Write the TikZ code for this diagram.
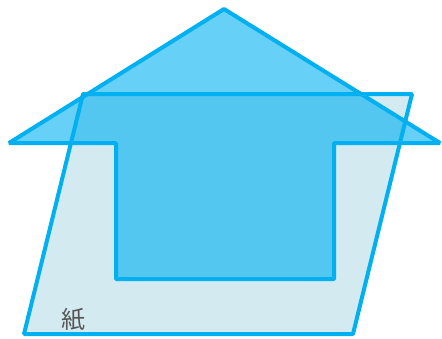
\documentclass[tikz,border=0pt]{standalone}
\usepackage{fontspec}
\newfontfamily\cjk{Noto Sans CJK JP}
\definecolor{edge}{RGB}{0,176,240}
\definecolor{paper}{RGB}{211,234,241}
\definecolor{label}{RGB}{85,85,85}
\tikzset{
  outline/.style={draw=edge, line width=4pt, line join=bevel},
  paperbox/.style={outline, fill=paper},
  arrowshape/.style={outline, fill=edge, fill opacity=0.6},
}
\begin{document}
\begin{tikzpicture}[x=1pt,y=-1pt]
\useasboundingbox (0,0) rectangle (442,338);
% paper (parallelogram)
\coordinate (p1) at (83,94);
\coordinate (p2) at (412,94);
\coordinate (p3) at (353,334);
\coordinate (p4) at (24,334);
\path[paperbox] (p1) -- (p2) -- (p3) -- (p4) -- cycle;
% up arrow
\coordinate (apex) at (224,9);
\coordinate (rt) at (440,143);
\coordinate (rs) at (334,143);
\coordinate (rb) at (334,279);
\coordinate (lb) at (116,279);
\coordinate (ls) at (116,143);
\coordinate (lt) at (9,143);
\path[arrowshape] (apex) -- (rt) -- (rs) -- (rb) -- (lb) -- (ls) -- (lt) -- cycle;
\node[text=label, font=\cjk\fontsize{24}{24}\selectfont, inner sep=0pt] (lbl) at (73,320) {紙};
\end{tikzpicture}
\end{document}
